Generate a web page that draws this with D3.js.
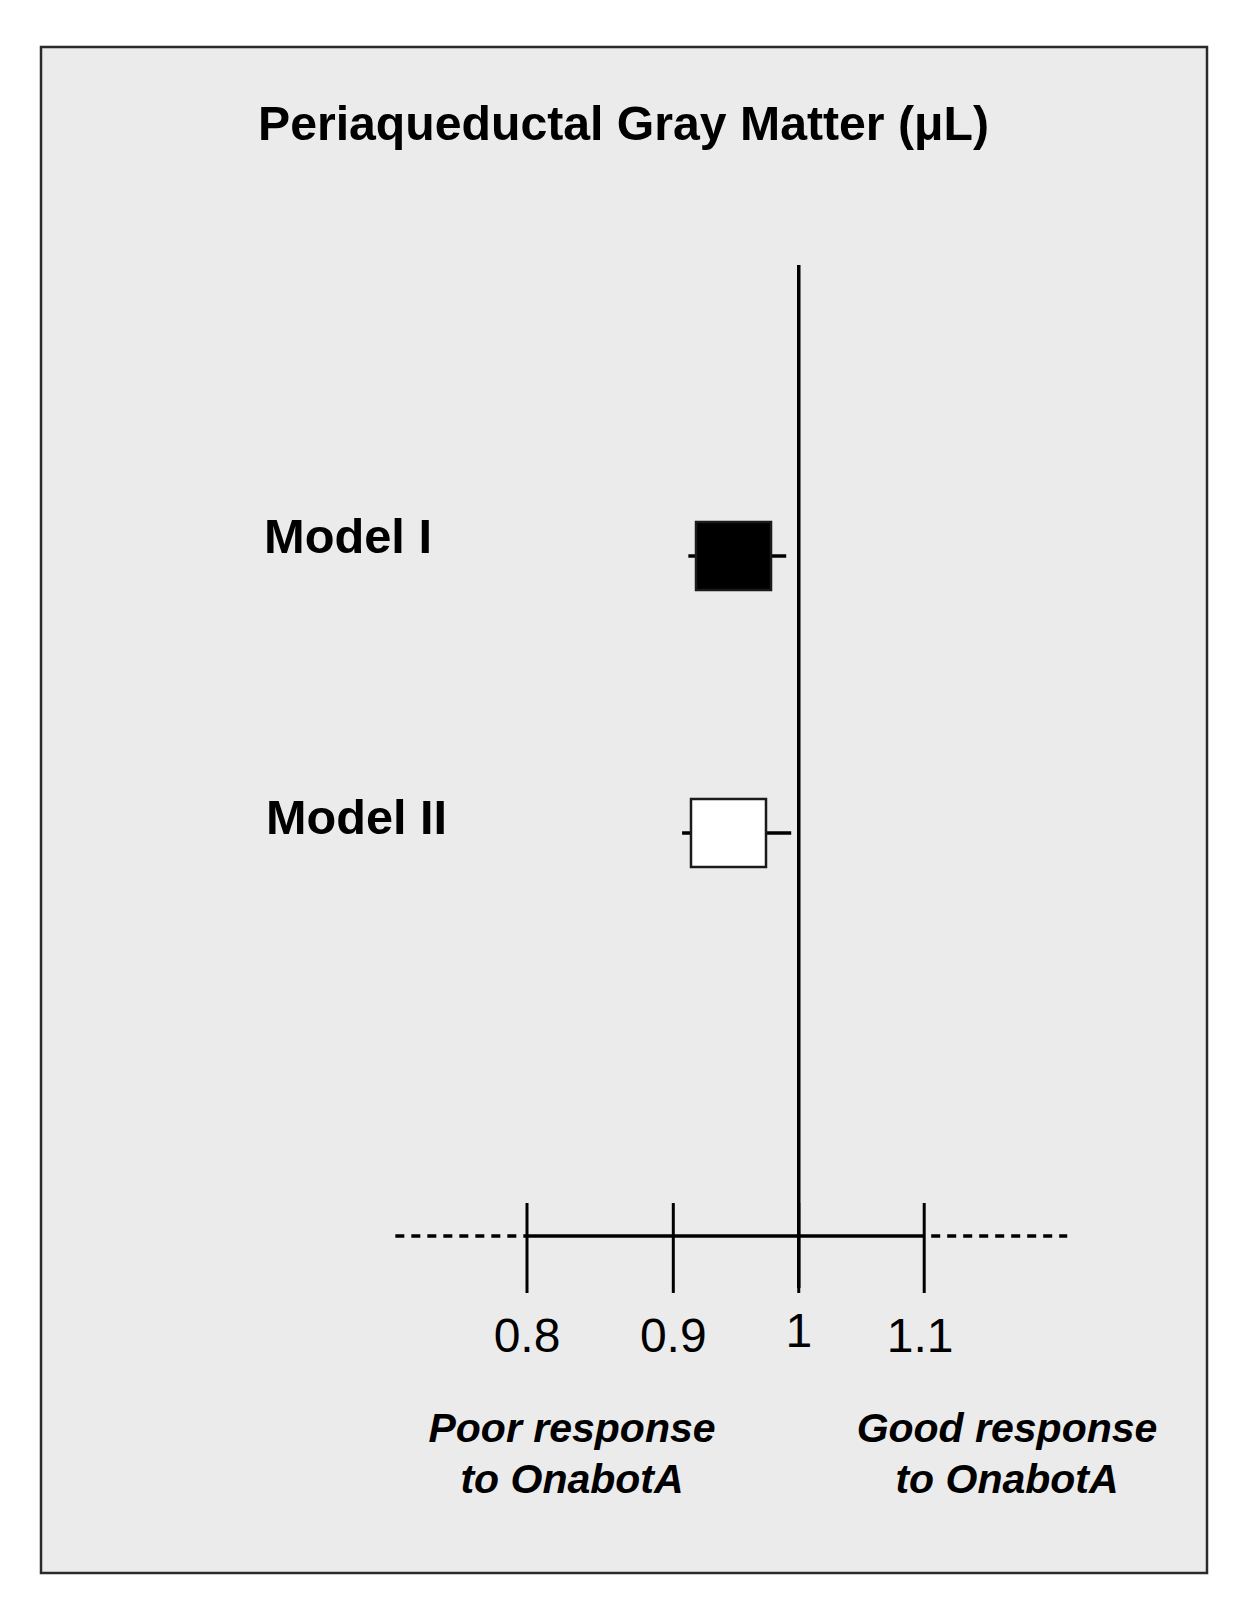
<!DOCTYPE html>
<html>
<head>
<meta charset="utf-8">
<script src="https://cdn.jsdelivr.net/npm/d3@7"></script>
<style>
  html, body { margin: 0; padding: 0; background: #ffffff; }
  svg { display: block; }
</style>
</head>
<body>
<div id="chart"></div>
<script>
// ---- Data ----
const models = ["Model I", "Model II"];
const estimates = [0.948, 0.944];
const ciLow = [0.912, 0.907];
const ciHigh = [0.990, 0.994];
const boxFill = ["#000000", "#ffffff"];
const tickValues = [0.8, 0.9, 1, 1.1];
const tickLabels = ["0.8", "0.9", "1", "1.1"];
const titleText = "Periaqueductal Gray Matter (\u03bcL)";
const leftNote = ["Poor response", "to OnabotA"];
const rightNote = ["Good response", "to OnabotA"];
const axisExtent = [0.71, 1.214];

// ---- Layout ----
const W = 1250, H = 1608;
const svg = d3.select("#chart").append("svg").attr("width", W).attr("height", H);

svg.append("rect")
  .attr("x", 41).attr("y", 47).attr("width", 1166).attr("height", 1526)
  .attr("fill", "#ebebeb").attr("stroke", "#2a2a2a").attr("stroke-width", 2.5);

// x scale: hand-drawn axis spacing (piecewise linear)
const x = d3.scaleLinear().domain([0.8, 0.9, 1.1]).range([527, 673.3, 924.2]);
const y = d3.scalePoint().domain(models).range([556, 833]);

const font = "'Liberation Sans', Arial, Helvetica, sans-serif";

// title
svg.append("text")
  .attr("x", 623.5).attr("y", 140)
  .attr("text-anchor", "middle")
  .attr("font-family", font).attr("font-weight", "bold").attr("font-size", 48)
  .attr("textLength", 731).attr("lengthAdjust", "spacingAndGlyphs")
  .attr("fill", "#000")
  .text(titleText);

const axisY = 1236;

// dashed extensions
svg.append("line")
  .attr("x1", x(axisExtent[0])).attr("x2", x(0.8))
  .attr("y1", axisY).attr("y2", axisY)
  .attr("stroke", "#000").attr("stroke-width", 3.5).attr("stroke-dasharray", "9,7");
svg.append("line")
  .attr("x1", x(1.1) + 7).attr("x2", x(axisExtent[1]))
  .attr("y1", axisY).attr("y2", axisY)
  .attr("stroke", "#000").attr("stroke-width", 3.5).attr("stroke-dasharray", "9,7");

// main axis line
svg.append("line")
  .attr("x1", x(0.8)).attr("x2", x(1.1))
  .attr("y1", axisY).attr("y2", axisY)
  .attr("stroke", "#000").attr("stroke-width", 3.5);

// ticks
svg.selectAll(".tick").data(tickValues).enter().append("line")
  .attr("class", "tick")
  .attr("x1", d => x(d)).attr("x2", d => x(d))
  .attr("y1", 1203).attr("y2", 1293)
  .attr("stroke", "#000").attr("stroke-width", 3);

// tick labels
svg.selectAll(".tlabel").data(tickValues).enter().append("text")
  .attr("class", "tlabel")
  .attr("x", d => x(d) - (d === 1.1 ? 4 : 0))
  .attr("y", d => d === 1 ? 1347 : 1351.5)
  .attr("text-anchor", "middle")
  .attr("font-family", font).attr("font-size", 48).attr("fill", "#000")
  .text((d, i) => tickLabels[i]);

// reference line at 1
svg.append("line")
  .attr("x1", x(1)).attr("x2", x(1))
  .attr("y1", 265).attr("y2", 1288)
  .attr("stroke", "#000").attr("stroke-width", 3.5);

// whiskers
svg.selectAll(".ci").data(models).enter().append("line")
  .attr("class", "ci")
  .attr("x1", (d, i) => x(ciLow[i])).attr("x2", (d, i) => x(ciHigh[i]))
  .attr("y1", d => y(d)).attr("y2", d => y(d))
  .attr("stroke", "#000").attr("stroke-width", 3.5);

// boxes
const bw = 75, bh = 68;
svg.selectAll(".box").data(models).enter().append("rect")
  .attr("class", "box")
  .attr("x", (d, i) => x(estimates[i]) - bw / 2)
  .attr("y", d => y(d) - bh / 2)
  .attr("width", bw).attr("height", bh)
  .attr("fill", (d, i) => boxFill[i])
  .attr("stroke", "#1a1a1a").attr("stroke-width", 2.5);

// model labels
const labelWidths = [168, 181];
svg.selectAll(".mlabel").data(models).enter().append("text")
  .attr("class", "mlabel")
  .attr("x", (d, i) => i === 0 ? 264 : 266)
  .attr("y", (d, i) => y(d) + (i === 0 ? -3 : 1))
  .attr("font-family", font).attr("font-weight", "bold").attr("font-size", 48)
  .attr("textLength", (d, i) => labelWidths[i]).attr("lengthAdjust", "spacingAndGlyphs")
  .attr("fill", "#000")
  .text(d => d);

// bottom notes
function note(lines, cx) {
  lines.forEach((t, i) => {
    svg.append("text")
      .attr("x", cx).attr("y", 1442 + i * 51)
      .attr("text-anchor", "middle")
      .attr("font-family", font).attr("font-weight", "bold").attr("font-style", "italic")
      .attr("font-size", 41).attr("fill", "#000")
      .text(t);
  });
}
note(leftNote, 572);
note(rightNote, 1007);
</script>
</body>
</html>
